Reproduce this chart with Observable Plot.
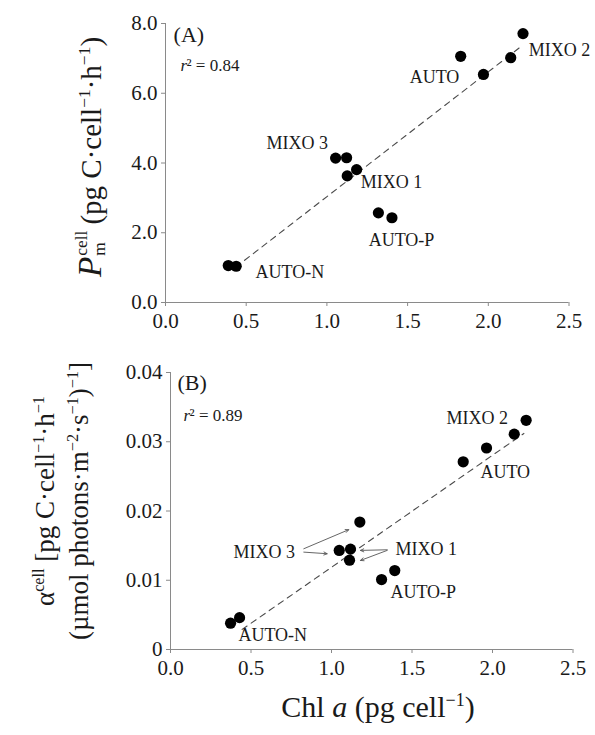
<!DOCTYPE html>
<html>
<head>
<meta charset="utf-8">
<script src="https://cdn.jsdelivr.net/npm/d3@7"></script>
<script src="https://cdn.jsdelivr.net/npm/@observablehq/plot@0.6"></script>
<style>
  html, body { margin: 0; padding: 0; background: #fff; overflow: hidden; }
  #fig { position: relative; width: 595px; height: 735px; font-family: "Liberation Serif", "Times New Roman", serif; color: #1a1a1a; }
  #fig svg { position: absolute; left: 0; }
  .title { position: absolute; white-space: nowrap; line-height: 1; }
  .ytitle { transform: translate(-50%, -50%) rotate(-90deg); text-align: center; }
  sup { font-size: 0.6em; vertical-align: 0.6em; line-height: 0; }
  .stk { display: inline-block; vertical-align: -0.25em; font-size: 0.6em; line-height: 1.05; margin-left: 1px; text-align: left; }
  .stk span { display: block; }
</style>
</head>
<body>
<div id="fig"></div>
<script>
// Panel A: maximum photosynthetic rate per cell vs. Chl a per cell
const chlA = [0.389, 0.438, 1.054, 1.122, 1.126, 1.184, 1.319, 1.403, 1.829, 1.970, 2.139, 2.215];
const pmA  = [1.06, 1.04, 4.14, 4.15, 3.63, 3.81, 2.57, 2.43, 7.06, 6.54, 7.02, 7.71];
// fitted regression line (end points)
const fitChlA = [0.49, 2.20];
const fitPmA  = [1.21, 7.33];
const r2A = 0.84;

// Panel B: initial slope (alpha) per cell vs. Chl a per cell
const chlB   = [0.373, 0.429, 1.048, 1.118, 1.112, 1.176, 1.311, 1.393, 1.818, 1.963, 2.135, 2.209];
const alphaB = [0.0038, 0.0046, 0.0143, 0.0145, 0.0129, 0.0184, 0.0101, 0.0114, 0.0271, 0.0291, 0.0311, 0.0331];
const fitChlB   = [0.445, 2.195];
const fitAlphaB = [0.0029, 0.0312];
const r2B = 0.89;

// treatment labels and their anchor points (left edge, vertical centre)
const labelsA   = ["MIXO 2", "AUTO", "MIXO 3", "MIXO 1", "AUTO-P", "AUTO-N"];
const labelChlA = [2.250, 1.513, 0.626, 1.209, 1.259, 0.558];
const labelPmA  = [7.23, 6.46, 4.56, 3.44, 1.78, 0.87];

const labelsB      = ["MIXO 2", "AUTO", "MIXO 3", "MIXO 1", "AUTO-P", "AUTO-N"];
const labelChlB    = [1.714, 1.925, 0.391, 1.398, 1.366, 0.422];
const labelAlphaB  = [0.03338, 0.02558, 0.01406, 0.01445, 0.00824, 0.00202];

// leader arrows in panel B (MIXO 3 ×2, MIXO 1 ×2)
const arrowChl1   = [0.828, 0.828, 1.346, 1.346];
const arrowAlpha1 = [0.01455, 0.01406, 0.01440, 0.01431];
const arrowChl2   = [1.107, 0.973, 1.180, 1.180];
const arrowAlpha2 = [0.01730, 0.01383, 0.01431, 0.01286];

// axis ticks
const xTicks = [0, 0.5, 1.0, 1.5, 2.0, 2.5];
const yTicksA = [0, 2, 4, 6, 8];
const yTicksB = [0, 0.01, 0.02, 0.03, 0.04];

const FONT = "Liberation Serif";
const AXIS = "#8a8a8a";
const INK = "#1a1a1a";

function panel({chl, val, fitX, fitY, yDomain, yTicks, yFormat, tag, tagPos, r2, r2Pos,
                labels, labelX, labelY, arrows, top, height, margins}) {
  const marks = [
    Plot.ruleY([0], {stroke: AXIS, strokeWidth: 1}),
    Plot.ruleX([0], {stroke: AXIS, strokeWidth: 1}),
    Plot.axisX({ticks: xTicks, tickFormat: d => d.toFixed(1), tickSize: 4, tickPadding: 7,
                stroke: AXIS, fill: INK, fontSize: 21, label: null}),
    Plot.axisY({ticks: yTicks, tickFormat: yFormat, tickSize: 4, tickPadding: 4,
                stroke: AXIS, fill: INK, fontSize: 21, label: null}),
    Plot.line(fitX, {x: fitX, y: fitY, stroke: "#4a4a4a", strokeWidth: 1.1, strokeDasharray: "6,5"}),
    Plot.dot(chl, {x: chl, y: val, r: 5.6, fill: "#000", stroke: null}),
    Plot.text(labels, {x: labelX, y: labelY, text: d => d, textAnchor: "start", fontSize: 18, fill: INK}),
    Plot.text([tag], {x: [tagPos[0]], y: [tagPos[1]], text: d => d, textAnchor: "start", fontSize: 22, fill: INK}),
    Plot.text(["r"], {x: [r2Pos[0]], y: [r2Pos[1]], text: d => d, textAnchor: "start", fontSize: 17, fontStyle: "italic", fill: INK}),
    Plot.text([r2], {x: [r2Pos[0]], y: [r2Pos[1]], text: d => "² = " + d.toFixed(2), textAnchor: "start", dx: 6, fontSize: 17, fill: INK})
  ];
  if (arrows) {
    marks.push(Plot.arrow(arrows.x1, {x1: arrows.x1, y1: arrows.y1, x2: arrows.x2, y2: arrows.y2,
      stroke: "#555", strokeWidth: 0.9, headLength: 6, headAngle: 50, bend: 0}));
  }
  const svg = Plot.plot({
    width: 595, height,
    marginLeft: margins[0], marginRight: margins[1], marginTop: margins[2], marginBottom: margins[3],
    x: {domain: [0, 2.5]},
    y: {domain: yDomain},
    style: {fontFamily: FONT, color: INK, background: "transparent", overflow: "visible"},
    marks
  });
  svg.style.top = top + "px";
  return svg;
}

const fig = document.getElementById("fig");

fig.appendChild(panel({
  chl: chlA, val: pmA, fitX: fitChlA, fitY: fitPmA,
  yDomain: [0, 8], yTicks: yTicksA, yFormat: d => d.toFixed(1),
  tag: "(A)", tagPos: [0.05, 7.66], r2: r2A, r2Pos: [0.093, 6.80],
  labels: labelsA, labelX: labelChlA, labelY: labelPmA,
  top: 0, height: 335, margins: [165, 26.5, 23, 33]
}));

fig.appendChild(panel({
  chl: chlB, val: alphaB, fitX: fitChlB, fitY: fitAlphaB,
  yDomain: [0, 0.04], yTicks: yTicksB, yFormat: d => d === 0 ? "0" : d.toFixed(2),
  tag: "(B)", tagPos: [0.043, 0.03844], r2: r2B, r2Pos: [0.081, 0.03382],
  labels: labelsB, labelX: labelChlB, labelY: labelAlphaB,
  arrows: {x1: arrowChl1, y1: arrowAlpha1, x2: arrowChl2, y2: arrowAlpha2},
  top: 340, height: 340, margins: [170, 22.5, 32, 31]
}));

// axis titles
function addTitle(html, cls, left, top, size) {
  const d = document.createElement("div");
  d.className = "title " + cls;
  d.style.left = left + "px";
  d.style.top = top + "px";
  d.style.fontSize = size + "px";
  d.innerHTML = html;
  fig.appendChild(d);
  return d;
}

addTitle('<i style="font-size:1.15em">P</i><span class="stk"><span>cell</span><span>m</span></span>' +
         '<span style="margin-left:6px">(pg C·cell<sup>−1</sup>·h<sup>−1</sup>)</span>',
         "ytitle", 90, 157, 29);

addTitle('<div>α<sup>cell</sup> [pg C·cell<sup>−1</sup>·h<sup>−1</sup></div>' +
         '<div style="margin-top:7px">(µmol photons·m<sup>−2</sup>·s<sup>−1</sup>)<sup>−1</sup>]</div>',
         "ytitle", 62, 501, 27);

const xt = addTitle('Chl <i>a</i> (pg cell<sup>−1</sup>)', "", 0, 0, 30);
xt.style.left = "378px";
xt.style.top = "707px";
xt.style.transform = "translate(-50%, -50%)";
</script>
</body>
</html>
